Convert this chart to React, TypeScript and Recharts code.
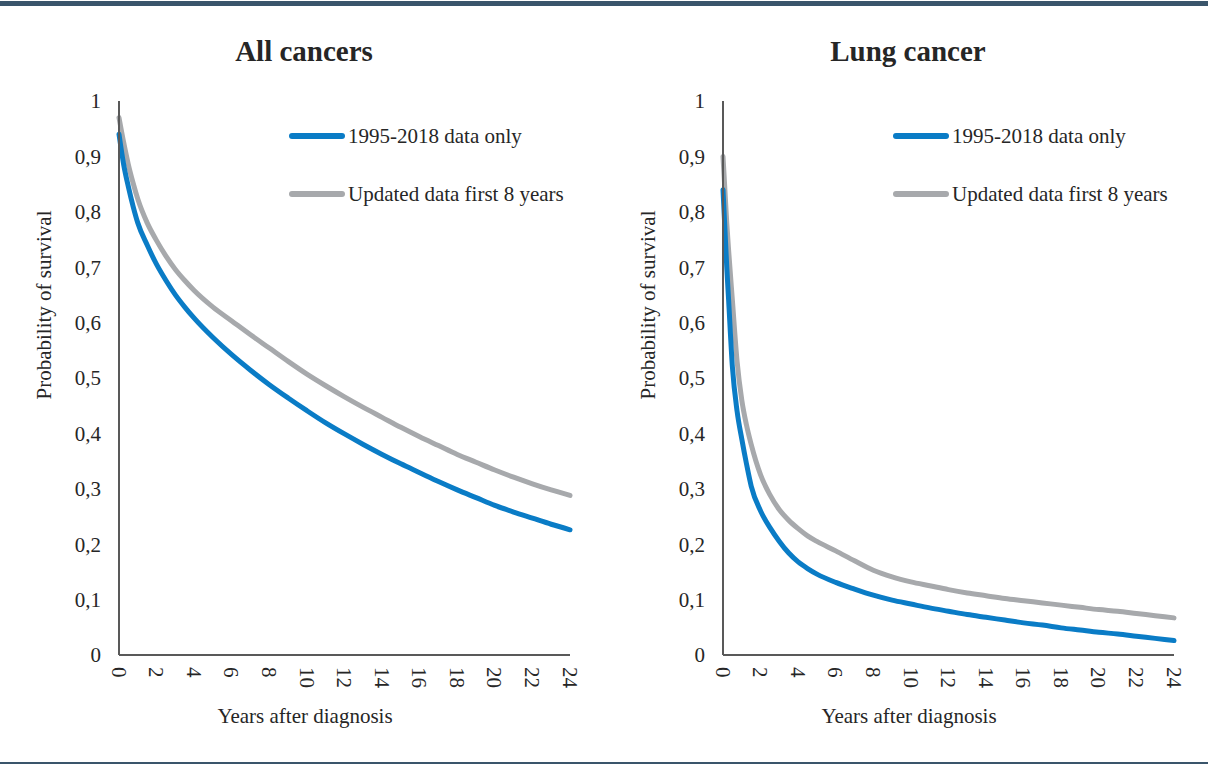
import React from 'react';
import { LineChart, Line, XAxis, YAxis, Label } from 'recharts';

// All cancers
const allYears = [0, 0.25, 0.5, 0.75, 1, 1.5, 2, 2.5, 3, 3.5, 4, 5, 6, 7, 8, 9, 10, 11, 12, 13, 14, 15, 16, 17, 18, 19, 20, 21, 22, 23, 24];
const allOnly = [0.94, 0.885, 0.845, 0.81, 0.78, 0.74, 0.705, 0.676, 0.65, 0.628, 0.608, 0.573, 0.542, 0.514, 0.488, 0.464, 0.441, 0.419, 0.399, 0.38, 0.362, 0.345, 0.329, 0.313, 0.298, 0.284, 0.27, 0.258, 0.247, 0.236, 0.226];
const allUpdated = [0.97, 0.925, 0.885, 0.852, 0.823, 0.78, 0.748, 0.72, 0.696, 0.676, 0.658, 0.628, 0.603, 0.578, 0.554, 0.53, 0.507, 0.486, 0.466, 0.447, 0.429, 0.411, 0.394, 0.378, 0.362, 0.348, 0.334, 0.321, 0.309, 0.298, 0.288];

// Lung cancer
const lungYears = [0, 0.1, 0.2, 0.3, 0.5, 0.75, 1, 1.25, 1.5, 2, 2.5, 3, 3.5, 4, 4.5, 5, 6, 7, 8, 9, 10, 11, 12, 13, 14, 15, 16, 17, 18, 19, 20, 21, 22, 23, 24];
const lungOnly = [0.84, 0.77, 0.7, 0.64, 0.52, 0.44, 0.39, 0.345, 0.305, 0.26, 0.23, 0.205, 0.184, 0.168, 0.156, 0.146, 0.131, 0.119, 0.108, 0.099, 0.092, 0.085, 0.079, 0.073, 0.068, 0.063, 0.058, 0.054, 0.049, 0.045, 0.041, 0.038, 0.034, 0.03, 0.026];
const lungUpdated = [0.9, 0.84, 0.78, 0.73, 0.64, 0.53, 0.46, 0.415, 0.38, 0.325, 0.289, 0.262, 0.243, 0.228, 0.215, 0.205, 0.188, 0.17, 0.153, 0.141, 0.132, 0.125, 0.118, 0.112, 0.107, 0.102, 0.098, 0.094, 0.09, 0.086, 0.082, 0.079, 0.075, 0.071, 0.067];

const xTicks = [0, 2, 4, 6, 8, 10, 12, 14, 16, 18, 20, 22, 24];
const yTicks = [0, 0.1, 0.2, 0.3, 0.4, 0.5, 0.6, 0.7, 0.8, 0.9, 1];
const seriesNames = ['1995-2018 data only', 'Updated data first 8 years'];

const BLUE = '#0a7cc6';
const GRAY = '#a7a9ac';
const AXIS = '#595959';
const TEXT = '#262626';
const FONT = '"Liberation Serif", "Times New Roman", serif';

const fmtY = (v: number) => (v === 0 || v === 1 ? String(v) : v.toFixed(1).replace('.', ','));

const XTick = (props: any) => {
  const { x, y, payload } = props;
  return (
    <g transform={`translate(${x},${y + 4})`}>
      <text transform="rotate(90)" textAnchor="start" dy="0.35em" fill={TEXT} fontSize={21} fontFamily={FONT}>
        {payload.value}
      </text>
    </g>
  );
};

const YTick = (props: any) => {
  const { x, y, payload } = props;
  return (
    <text x={x - 10} y={y} dy="0.35em" textAnchor="end" fill={TEXT} fontSize={21} fontFamily={FONT}>
      {fmtY(payload.value)}
    </text>
  );
};

const LegendBox = () => (
  <div style={{ position: 'absolute', left: 289, top: 121, fontFamily: FONT, fontSize: 21, color: TEXT, whiteSpace: 'nowrap' }}>
    {[BLUE, GRAY].map((c, i) => (
      <div key={c} style={{ display: 'flex', alignItems: 'center', height: 30, marginBottom: i === 0 ? 28 : 0 }}>
        <div style={{ width: 56, height: 6, borderRadius: 3, background: c, marginRight: 3 }} />
        <span>{seriesNames[i]}</span>
      </div>
    ))}
  </div>
);

const Panel = ({ title, years, only, updated, left }: any) => {
  const data = years.map((y: number, i: number) => ({ year: y, only: only[i], updated: updated[i] }));
  return (
    <div style={{ position: 'absolute', left, top: 0, width: 604, height: 764 }}>
      <div style={{ position: 'absolute', top: 35, left: 0, width: 608, textAlign: 'center', fontFamily: FONT, fontWeight: 'bold', fontSize: 29, color: TEXT }}>
        {title}
      </div>
      <LineChart width={604} height={764} data={data} margin={{ top: 101, right: 34, left: 0, bottom: 0 }}>
        <XAxis
          dataKey="year"
          type="number"
          domain={[0, 24]}
          ticks={xTicks}
          interval={0}
          tick={<XTick />}
          tickLine={false}
          axisLine={{ stroke: AXIS, strokeWidth: 2 }}
          height={109}
        >
          <Label
            content={() => (
              <text x={305} y={723} textAnchor="middle" fill={TEXT} fontSize={21} fontFamily={FONT}>
                Years after diagnosis
              </text>
            )}
          />
        </XAxis>
        <YAxis
          type="number"
          domain={[0, 1]}
          ticks={yTicks}
          interval={0}
          tick={<YTick />}
          tickLine={false}
          axisLine={{ stroke: AXIS, strokeWidth: 2 }}
          width={119}
        >
          <Label
            content={() => (
              <text x={51} y={305} transform="rotate(-90 51 305)" textAnchor="middle" fill={TEXT} fontSize={21} fontFamily={FONT}>
                Probability of survival
              </text>
            )}
          />
        </YAxis>
        <Line type="monotone" dataKey="updated" stroke={GRAY} strokeWidth={5} dot={false} isAnimationActive={false} strokeLinecap="round" />
        <Line type="monotone" dataKey="only" stroke={BLUE} strokeWidth={5} dot={false} isAnimationActive={false} strokeLinecap="round" />
      </LineChart>
      <LegendBox />
    </div>
  );
};

export default function App() {
  return (
    <div style={{ position: 'absolute', left: 0, top: 0, width: 1208, height: 764, background: '#fff', overflow: 'hidden' }}>
      <div style={{ position: 'absolute', left: 0, top: 1, width: 1208, height: 5, background: '#3a556b' }} />
      <div style={{ position: 'absolute', left: 0, top: 762, width: 1208, height: 2, background: '#3a556b' }} />
      <Panel title="All cancers" years={allYears} only={allOnly} updated={allUpdated} left={0} />
      <Panel title="Lung cancer" years={lungYears} only={lungOnly} updated={lungUpdated} left={604} />
    </div>
  );
}
